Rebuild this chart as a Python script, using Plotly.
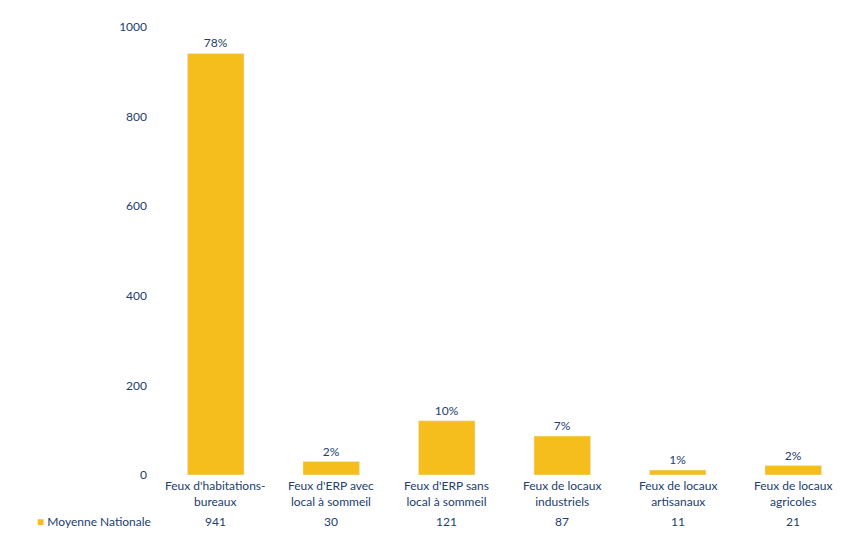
import plotly.graph_objects as go

categories = ["Feux d'habitations-<br>bureaux", "Feux d'ERP avec<br>local à sommeil",
              "Feux d'ERP sans<br>local à sommeil", "Feux de locaux<br>industriels",
              "Feux de locaux<br>artisanaux", "Feux de locaux<br>agricoles"]
values = [941, 30, 121, 87, 11, 21]
percents = ["78%", "2%", "10%", "7%", "1%", "2%"]
series_name = "Moyenne Nationale"
y_ticks = [0, 200, 400, 600, 800, 1000]

BAR = "#F6BE1C"
TXT = "#23406E"
FONT = "Lato, Open Sans, sans-serif"

idx = list(range(len(categories)))
fig = go.Figure()
fig.add_trace(go.Bar(
    x=idx, y=values, width=0.49, marker_color=BAR, name=series_name,
    text=percents, textposition="outside", cliponaxis=False,
    textfont=dict(color=TXT, size=12, family=FONT), showlegend=False,
))

ann = []
for i, (c, v) in enumerate(zip(categories, values)):
    ann.append(dict(x=i, xref="x", y=0, yref="paper", yanchor="top", yshift=-1,
                    text=c, showarrow=False, font=dict(color=TXT, size=12, family=FONT)))
    ann.append(dict(x=i, xref="x", y=0, yref="paper", yanchor="middle", yshift=-46,
                    text=str(v), showarrow=False, font=dict(color=TXT, size=12, family=FONT)))
ann.append(dict(x=-0.178, xref="paper", y=0, yref="paper", yanchor="middle", yshift=-46,
                xanchor="left",
                text=f'<span style="color:{BAR}">■</span> {series_name}', showarrow=False,
                font=dict(color=TXT, size=12, family=FONT)))

fig.update_layout(
    width=851, height=534, margin=dict(l=158, r=0, t=27, b=59),
    paper_bgcolor="white", plot_bgcolor="white",
    annotations=ann, bargap=0.51,
    font=dict(family=FONT, color=TXT, size=12),
)
fig.update_xaxes(range=[-0.5, len(categories) - 0.5], showticklabels=False,
                 showgrid=False, zeroline=False, showline=False)
fig.update_yaxes(range=[0, 1000], tickvals=y_ticks, showgrid=False, zeroline=False,
                 showline=False, ticklabelstandoff=10,
                 tickfont=dict(color=TXT, size=12, family=FONT))
fig.write_html("out.html")
